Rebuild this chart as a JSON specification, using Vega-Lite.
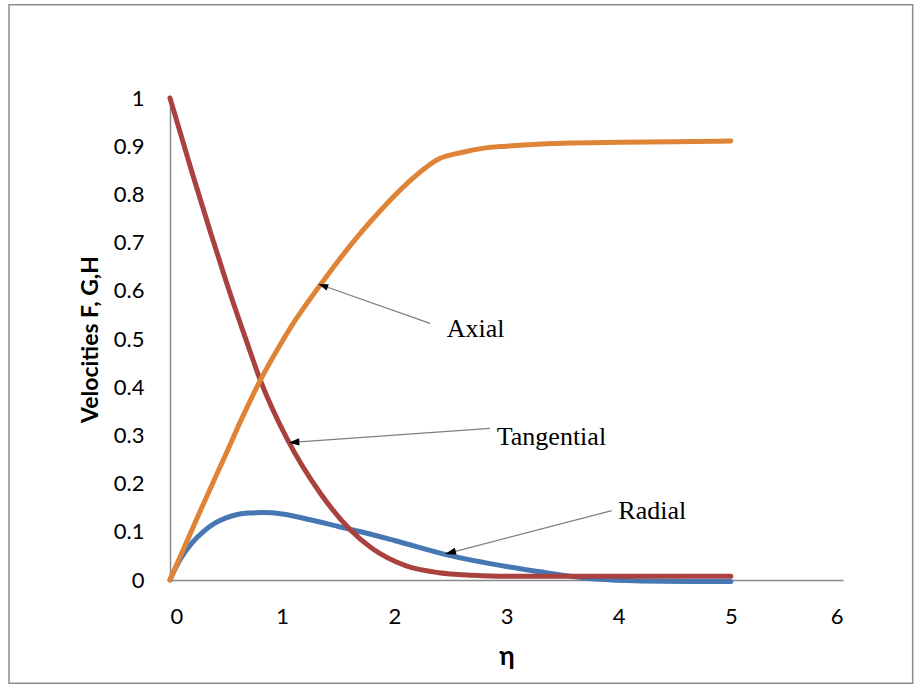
{
  "$schema": "https://vega.github.io/schema/vega-lite/v6.json",
  "width": 673,
  "height": 482,
  "autosize": {"type": "none"},
  "padding": {"left": 170, "top": 98, "right": 76, "bottom": 104},
  "background": "white",
  "config": {
    "view": {"stroke": null},
    "axis": {
      "grid": false,
      "ticks": false,
      "tickSize": 0,
      "domainColor": "#898989",
      "domainWidth": 1.5,
      "labelFont": "Lato",
      "labelFontSize": 22,
      "labelColor": "#000000",
      "labelPadding": 26,
      "titleFont": "Lato",
      "titleColor": "#000000",
      "titleFontWeight": "bold"
    }
  },
  "datasets": {
    "radial": [
      {"eta": 0, "value": 0},
      {"eta": 0.05, "value": 0.025},
      {"eta": 0.1, "value": 0.046},
      {"eta": 0.2, "value": 0.078},
      {"eta": 0.3, "value": 0.101},
      {"eta": 0.4, "value": 0.118},
      {"eta": 0.5, "value": 0.129},
      {"eta": 0.6, "value": 0.136},
      {"eta": 0.7, "value": 0.139},
      {"eta": 0.83, "value": 0.14},
      {"eta": 1.0, "value": 0.137},
      {"eta": 1.25, "value": 0.125},
      {"eta": 1.5, "value": 0.111},
      {"eta": 1.7, "value": 0.1},
      {"eta": 2.0, "value": 0.082},
      {"eta": 2.47, "value": 0.052},
      {"eta": 3.0, "value": 0.028},
      {"eta": 3.3, "value": 0.017},
      {"eta": 3.5, "value": 0.01},
      {"eta": 3.8, "value": 0.002},
      {"eta": 4.2, "value": -0.002},
      {"eta": 4.6, "value": -0.003},
      {"eta": 5.0, "value": -0.003}
    ],
    "tangential": [
      {"eta": 0, "value": 1.0},
      {"eta": 0.2, "value": 0.843},
      {"eta": 0.36, "value": 0.722},
      {"eta": 0.5, "value": 0.62},
      {"eta": 0.68, "value": 0.497},
      {"eta": 0.8, "value": 0.418},
      {"eta": 1.05, "value": 0.29},
      {"eta": 1.34, "value": 0.18},
      {"eta": 1.6, "value": 0.106},
      {"eta": 1.8, "value": 0.066},
      {"eta": 2.1, "value": 0.03},
      {"eta": 2.4, "value": 0.015},
      {"eta": 2.7, "value": 0.01},
      {"eta": 3.0, "value": 0.008},
      {"eta": 4.0, "value": 0.008},
      {"eta": 5.0, "value": 0.008}
    ],
    "axial": [
      {"eta": 0, "value": 0},
      {"eta": 0.25, "value": 0.133},
      {"eta": 0.5, "value": 0.262},
      {"eta": 0.65, "value": 0.34},
      {"eta": 0.8, "value": 0.412},
      {"eta": 0.9, "value": 0.455},
      {"eta": 1.0, "value": 0.495},
      {"eta": 1.1, "value": 0.533},
      {"eta": 1.2, "value": 0.567},
      {"eta": 1.34, "value": 0.612},
      {"eta": 1.52, "value": 0.668},
      {"eta": 1.7, "value": 0.72},
      {"eta": 1.87, "value": 0.765},
      {"eta": 2.11, "value": 0.822},
      {"eta": 2.4, "value": 0.874},
      {"eta": 2.6, "value": 0.887},
      {"eta": 2.8, "value": 0.896},
      {"eta": 3.0, "value": 0.9},
      {"eta": 3.5, "value": 0.906},
      {"eta": 4.0, "value": 0.908},
      {"eta": 4.5, "value": 0.909},
      {"eta": 5.0, "value": 0.911}
    ],
    "notes": [
      {"label": "Axial", "tx": 2.467, "ty": 0.5035, "x1": 2.318, "y1": 0.5326, "x2": 1.322, "y2": 0.6141},
      {"label": "Tangential", "tx": 2.913, "ty": 0.28, "x1": 2.853, "y1": 0.3147, "x2": 1.055, "y2": 0.2849},
      {"label": "Radial", "tx": 3.997, "ty": 0.126, "x1": 3.938, "y1": 0.1438, "x2": 2.452, "y2": 0.0539}
    ]
  },
  "encoding": {
    "x": {
      "field": "eta",
      "type": "quantitative",
      "scale": {"domain": [0, 6], "nice": false, "zero": false},
      "axis": {
        "title": "η",
        "values": [0, 1, 2, 3, 4, 5, 6],
        "titleFontSize": 26,
        "titlePadding": 16
      }
    },
    "y": {
      "field": "value",
      "type": "quantitative",
      "scale": {"domain": [0, 1], "nice": false, "zero": false},
      "axis": {
        "title": "Velocities F, G,H",
        "values": [0, 0.1, 0.2, 0.3, 0.4, 0.5, 0.6, 0.7, 0.8, 0.9, 1],
        "format": "~g",
        "titleFontSize": 23,
        "titlePadding": 11
      }
    }
  },
  "layer": [
    {
      "data": {"values": [{"x0": -1.435, "x1": 6.621, "y0": -0.2143, "y1": 1.1936}]},
      "mark": {"type": "rect", "fill": null, "stroke": "#8c8c8c", "strokeWidth": 1.5, "clip": false},
      "encoding": {
        "x": {"field": "x0", "type": "quantitative"},
        "x2": {"field": "x1"},
        "y": {"field": "y0", "type": "quantitative"},
        "y2": {"field": "y1"}
      }
    },
    {
      "data": {"name": "radial"},
      "mark": {"type": "line", "interpolate": "monotone", "color": "#4677b3", "strokeWidth": 5, "strokeCap": "round", "clip": false}
    },
    {
      "data": {"name": "tangential"},
      "mark": {"type": "line", "interpolate": "monotone", "color": "#a9423f", "strokeWidth": 5, "strokeCap": "round", "clip": false}
    },
    {
      "data": {"name": "axial"},
      "mark": {"type": "line", "interpolate": "monotone", "color": "#df8337", "strokeWidth": 5, "strokeCap": "round", "clip": false}
    },
    {
      "data": {"name": "notes"},
      "mark": {"type": "rule", "color": "#7f7f7f", "strokeWidth": 1.3},
      "encoding": {
        "x": {"field": "x1", "type": "quantitative"},
        "y": {"field": "y1", "type": "quantitative"},
        "x2": {"field": "x2"},
        "y2": {"field": "y2"}
      }
    },
    {
      "data": {"name": "notes"},
      "transform": [{"filter": "datum.label === 'Axial'"}],
      "mark": {"type": "point", "shape": "M0,0L0.65,2L-0.65,2Z", "filled": true, "color": "#000000", "opacity": 1, "size": 100, "angle": 289.4},
      "encoding": {
        "x": {"field": "x2", "type": "quantitative"},
        "y": {"field": "y2", "type": "quantitative"}
      }
    },
    {
      "data": {"name": "notes"},
      "transform": [{"filter": "datum.label === 'Tangential'"}],
      "mark": {"type": "point", "shape": "M0,0L0.65,2L-0.65,2Z", "filled": true, "color": "#000000", "opacity": 1, "size": 121, "angle": 265.9},
      "encoding": {
        "x": {"field": "x2", "type": "quantitative"},
        "y": {"field": "y2", "type": "quantitative"}
      }
    },
    {
      "data": {"name": "notes"},
      "transform": [{"filter": "datum.label === 'Radial'"}],
      "mark": {"type": "point", "shape": "M0,0L0.65,2L-0.65,2Z", "filled": true, "color": "#000000", "opacity": 1, "size": 121, "angle": 255.5},
      "encoding": {
        "x": {"field": "x2", "type": "quantitative"},
        "y": {"field": "y2", "type": "quantitative"}
      }
    },
    {
      "data": {"name": "notes"},
      "mark": {"type": "text", "font": "Liberation Serif", "fontSize": 26, "align": "left", "baseline": "alphabetic", "color": "#000000"},
      "encoding": {
        "x": {"field": "tx", "type": "quantitative"},
        "y": {"field": "ty", "type": "quantitative"},
        "text": {"field": "label"}
      }
    }
  ]
}
